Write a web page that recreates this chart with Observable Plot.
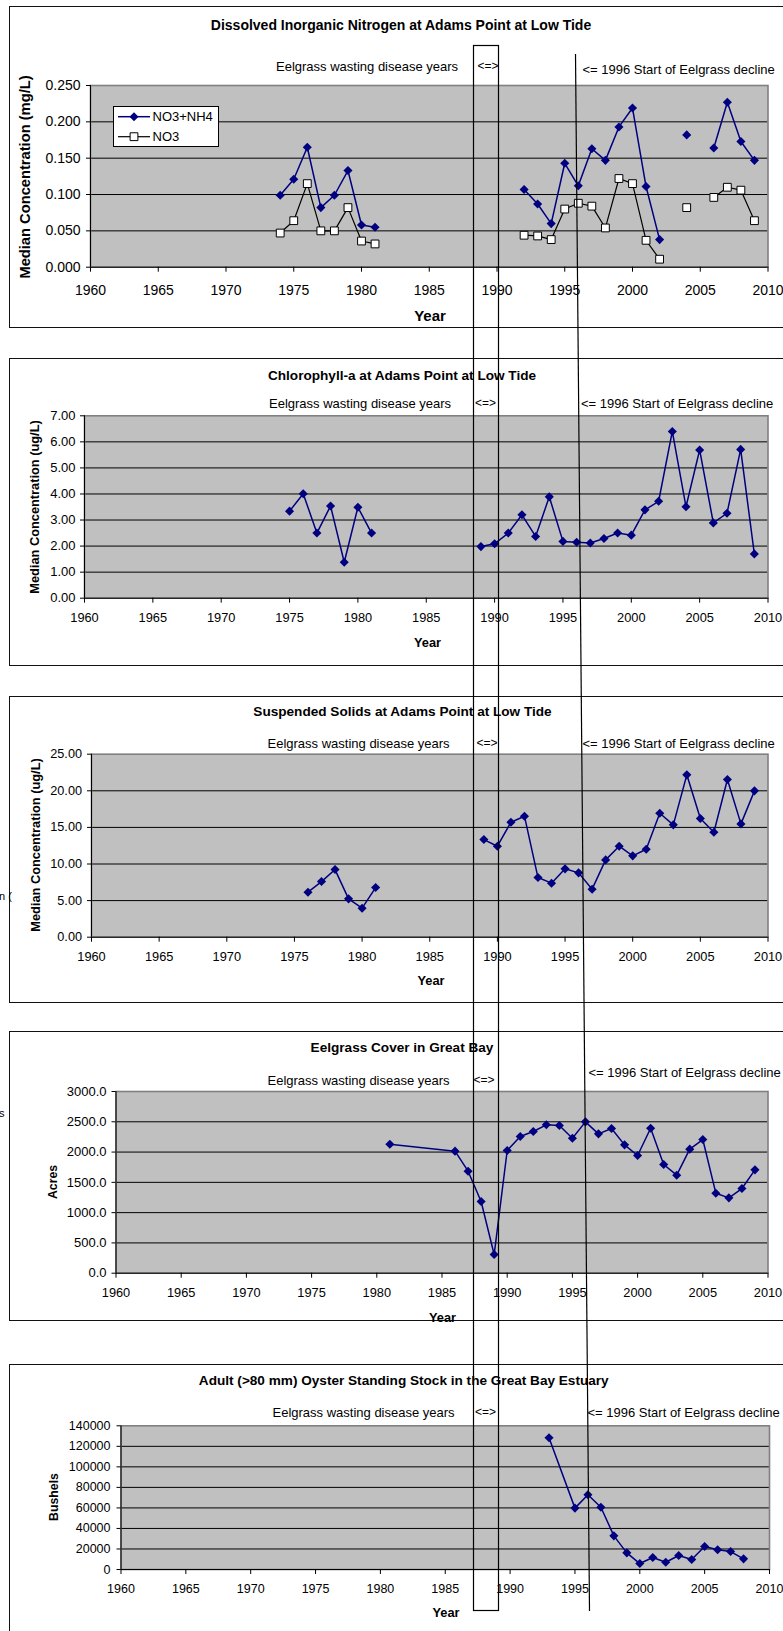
<!DOCTYPE html>
<html>
<head>
<meta charset="utf-8">
<script src="https://cdn.jsdelivr.net/npm/d3@7"></script>
<script src="https://cdn.jsdelivr.net/npm/@observablehq/plot@0.6"></script>
<style>
html, body { margin:0; padding:0; background:#fff; }
body { width:783px; height:1631px; overflow:hidden; }
#page { position:relative; width:783px; height:1631px; overflow:hidden; font-family:"Liberation Sans", Arial, sans-serif; color:#000; }
.frame { position:absolute; left:9px; width:800px; border:1.4px solid #111; box-sizing:border-box; }
.txt { position:absolute; white-space:nowrap; line-height:1; }
.plot { position:absolute; left:0; }
</style>
</head>
<body>
<div id="page"></div>
<script>
// ---------------- DATA ----------------
const yearTicks = [1960, 1965, 1970, 1975, 1980, 1985, 1990, 1995, 2000, 2005, 2010];

// Panel 1: Dissolved inorganic nitrogen (null = gap in line)
const dinYears = [1974,1975,1976,1977,1978,1979,1980,1981,1982,1992,1993,1994,1995,1996,1997,1998,1999,2000,2001,2002,2003,2004,2005,2006,2007,2008,2009];
const no3nh4   = [0.099,0.121,0.165,0.082,0.099,0.133,0.058,0.055,null,0.107,0.087,0.060,0.143,0.112,0.163,0.147,0.193,0.219,0.111,0.038,null,0.182,null,0.164,0.227,0.173,0.147];
const no3      = [0.047,0.064,0.115,0.050,0.050,0.082,0.036,0.032,null,0.044,0.043,0.038,0.080,0.088,0.084,0.054,0.122,0.115,0.037,0.011,null,0.082,null,0.096,0.110,0.106,0.064];
const dinTicks = [0, 0.05, 0.10, 0.15, 0.20, 0.25];

// Panel 2: Chlorophyll-a
const chlYears = [1975,1976,1977,1978,1979,1980,1981,1985,1989,1990,1991,1992,1993,1994,1995,1996,1997,1998,1999,2000,2001,2002,2003,2004,2005,2006,2007,2008,2009];
const chl      = [3.34,4.01,2.50,3.54,1.38,3.49,2.50,null,1.98,2.09,2.50,3.20,2.37,3.89,2.18,2.15,2.12,2.29,2.50,2.42,3.39,3.72,6.40,3.51,5.69,2.89,3.26,5.71,1.70];
const chlTicks = [0,1,2,3,4,5,6,7];

// Panel 3: Suspended solids
const tssYears = [1976,1977,1978,1979,1980,1981,1985,1989,1990,1991,1992,1993,1994,1995,1996,1997,1998,1999,2000,2001,2002,2003,2004,2005,2006,2007,2008,2009];
const tss      = [6.15,7.60,9.24,5.24,3.96,6.78,null,13.34,12.43,15.71,16.53,8.15,7.38,9.34,8.79,6.56,10.56,12.43,11.11,12.02,16.94,15.35,22.18,16.21,14.34,21.54,15.48,19.99];
const tssTicks = [0,5,10,15,20,25];

// Panel 4: Eelgrass cover (acres)
const eelYears = [1981,1986,1987,1988,1989,1990,1991,1992,1993,1994,1995,1996,1997,1998,1999,2000,2001,2002,2003,2004,2005,2006,2007,2008,2009];
const eel      = [2130,2015,1684,1183,308,2026,2257,2339,2450,2439,2229,2499,2301,2389,2119,1943,2394,1794,1618,2048,2207,1321,1244,1398,1706];
const eelTicks = [0,500,1000,1500,2000,2500,3000];

// Panel 5: Oyster standing stock (bushels)
const oysYears = [1993,1995,1996,1997,1998,1999,2000,2001,2002,2003,2004,2005,2006,2007,2008];
const oys      = [128300,59800,72800,60700,32800,16200,5800,11700,7100,13600,9700,22400,19200,17500,10400];
const oysTicks = [0,20000,40000,60000,80000,100000,120000,140000];

const titles = [
  "Dissolved Inorganic Nitrogen at Adams Point at Low Tide",
  "Chlorophyll-a at Adams Point at Low Tide",
  "Suspended Solids at Adams Point at Low Tide",
  "Eelgrass Cover in Great Bay",
  "Adult (>80 mm) Oyster Standing Stock in the Great Bay Estuary"
];
const yTitles = ["Median Concentration (mg/L)", "Median Concentration (ug/L)", "Median Concentration (ug/L)", "Acres", "Bushels"];
const xTitle = "Year";
const notes = ["Eelgrass wasting disease years", "<=>", "<= 1996 Start of Eelgrass decline"];
const legendNames = ["NO3+NH4", "NO3"];

// ---------------- LAYOUT ----------------
const W = 783, H = 1631;
const NAVY = "#000080";
const layout = [
  {fTop:6, fBot:328, svgBot:328, x0:90, x1:767.5, y0:85, y1:266.7, xFont:14, yFont:14, xPad:13, yPad:6,
   title:[401,25,14], yTitle:[25,177,14.7], year:[430,315,15], notes:[[276,66],[477.5,66],[582.5,69]]},
  {fTop:358, fBot:666, svgBot:666, x0:84, x1:767.5, y0:415.3, y1:597.7, xFont:12.8, yFont:13, xPad:9.5, yPad:5,
   title:[402,375.7,13.6], yTitle:[35,506.7,12.8], year:[427.5,643.3,12.8], notes:[[269,402.7],[475,402.7],[581,402.7]]},
  {fTop:696, fBot:1003, svgBot:1003, x0:91, x1:767.5, y0:753.7, y1:936.7, xFont:12.8, yFont:12.7, xPad:9.5, yPad:5.5,
   title:[402.5,712.3,13.6], yTitle:[36,845,12.8], year:[431,981,12.8], notes:[[267.5,742.7],[476.5,742.7],[582.5,742.7]]},
  {fTop:1031, fBot:1321, svgBot:1321, x0:115.5, x1:767.5, y0:1091, y1:1272.7, xFont:12.8, yFont:13, xPad:9.5, yPad:5.5,
   title:[402,1048.3,13.6], yTitle:[52.5,1181.7,12.3], year:[442.5,1318,12.8], notes:[[267.5,1080],[473.5,1080],[588.5,1071.7]]},
  {fTop:1364, fBot:1700, svgBot:1631, x0:120.5, x1:769, y0:1425.3, y1:1569, xFont:12.5, yFont:12.5, xPad:9.3, yPad:6.5,
   title:[403.75,1380.7,13.6], yTitle:[54,1497,12.3], year:[446,1613,12.8], notes:[[272.5,1411.7],[475,1411.7],[587.5,1411.7]]}
];

const page = document.getElementById("page");

function txt(s, x, y, size, opt = {}) {
  const d = document.createElement("div");
  d.className = "txt";
  d.textContent = s;
  d.style.left = x + "px";
  d.style.top = y + "px";
  d.style.fontSize = size + "px";
  if (opt.bold) d.style.fontWeight = "bold";
  const tx = opt.anchor === "start" ? "0" : opt.anchor === "end" ? "-100%" : "-50%";
  d.style.transform = `translate(${tx},-50%)` + (opt.rotate ? ` rotate(${opt.rotate}deg)` : "");
  page.appendChild(d);
  return d;
}

function rows(years, vals) { return years.map((year, i) => ({year, v: vals[i]})); }

function diamondSeries(years, vals) {
  const data = rows(years, vals);
  return [
    Plot.line(data, {x: "year", y: "v", stroke: NAVY, strokeWidth: 1.5}),
    Plot.dot(data, {x: "year", y: "v", symbol: d3.symbolDiamond2, r: 4.1, fill: NAVY, stroke: "none"})
  ];
}
function squareSeries(years, vals) {
  const data = rows(years, vals);
  return [
    Plot.line(data, {x: "year", y: "v", stroke: "#000", strokeWidth: 1.2}),
    Plot.dot(data, {x: "year", y: "v", symbol: "square", r: 4.4, fill: "#fff", stroke: "#000", strokeWidth: 1})
  ];
}

function panel(i, series, yTicks, yFmt) {
  const c = layout[i];
  // frame
  const f = document.createElement("div");
  f.className = "frame";
  f.style.top = c.fTop + "px";
  f.style.height = (c.fBot - c.fTop) + "px";
  page.appendChild(f);

  const h = c.svgBot - c.fTop;
  const chart = Plot.plot({
    width: W, height: h,
    marginLeft: c.x0, marginRight: W - c.x1,
    marginTop: c.y0 - c.fTop, marginBottom: c.svgBot - c.y1,
    x: {domain: [1960, 2010]},
    y: {domain: [yTicks[0], yTicks[yTicks.length - 1]]},
    style: {background: "transparent", color: "#000", fontFamily: "Liberation Sans, Arial, sans-serif", fontSize: c.xFont + "px", overflow: "visible"},
    marks: [
      Plot.frame({fill: "#c0c0c0", stroke: "none"}),
      Plot.gridY(yTicks.slice(1, -1), {stroke: "#000", strokeOpacity: 1, strokeWidth: 1}),
      Plot.frame({fill: "none", stroke: "#808080", strokeWidth: 1.6}),
      Plot.ruleX([1960], {stroke: "#000", strokeWidth: 1}),
      Plot.ruleY([yTicks[0]], {stroke: "#000", strokeWidth: 1}),
      Plot.axisX(yearTicks, {tickSize: 5, tickPadding: c.xPad, tickFormat: d => String(d), fontSize: c.xFont, label: null}),
      Plot.axisY(yTicks, {tickSize: 4, tickPadding: c.yPad, tickFormat: yFmt, fontSize: c.yFont, label: null}),
      ...series
    ]
  });
  chart.classList.add("plot");
  chart.style.position = "absolute";
  chart.style.left = "0px";
  chart.style.top = c.fTop + "px";
  page.appendChild(chart);

  txt(titles[i], c.title[0], c.title[1], c.title[2], {bold: true});
  txt(yTitles[i], c.yTitle[0], c.yTitle[1], c.yTitle[2], {bold: true, rotate: -90});
  txt(xTitle, c.year[0], c.year[1], c.year[2], {bold: true});
  txt(notes[0], c.notes[0][0], c.notes[0][1], 13, {anchor: "start"});
  txt(notes[1], c.notes[1][0], c.notes[1][1], 12, {anchor: "start"});
  txt(notes[2], c.notes[2][0], c.notes[2][1], 13, {anchor: "start"});
  return chart;
}

panel(0, [...squareSeries(dinYears, no3), ...diamondSeries(dinYears, no3nh4)], dinTicks, d3.format(".3f"));
panel(1, diamondSeries(chlYears, chl), chlTicks, d3.format(".2f"));
panel(2, diamondSeries(tssYears, tss), tssTicks, d3.format(".2f"));
panel(3, diamondSeries(eelYears, eel), eelTicks, d3.format(".1f"));
panel(4, diamondSeries(oysYears, oys), oysTicks, d3.format("d"));

// Legend (panel 1)
const lg = document.createElement("div");
Object.assign(lg.style, {position: "absolute", left: "113px", top: "106px", width: "106px", height: "41px",
  border: "1px solid #000", background: "#fff", boxSizing: "border-box"});
page.appendChild(lg);
const lsvg = d3.select(lg).append("svg").attr("width", 104).attr("height", 39).style("position", "absolute").style("left", 0).style("top", 0);
[[NAVY, d3.symbolDiamond2, 52, NAVY, "none", 9.7], ["#000", d3.symbolSquare, 61, "#fff", "#000", 29.7]].forEach(([col, sym, size, fill, stroke, y], k) => {
  lsvg.append("line").attr("x1", 4).attr("x2", 36).attr("y1", y).attr("y2", y).attr("stroke", col).attr("stroke-width", k ? 1.2 : 1.5);
  lsvg.append("path").attr("d", d3.symbol(sym, size)()).attr("transform", `translate(20,${y})`).attr("fill", fill).attr("stroke", stroke);
  lsvg.append("text").attr("x", 38.5).attr("y", y).attr("dy", "0.35em").attr("font-size", 13)
    .attr("font-family", "Liberation Sans, Arial, sans-serif").text(legendNames[k]);
});

// stray clipped text fragments at the left edge
txt("n (", -1, 896, 11, {anchor: "start"});
txt("s", -1, 1113, 11, {anchor: "start"});

// Overlay: disease-years box and 1996 line running across all panels
const ov = d3.select(page).append("svg").attr("width", W).attr("height", H)
  .style("position", "absolute").style("left", 0).style("top", 0).style("pointer-events", "none");
ov.append("rect").attr("x", 473.5).attr("y", 45.5).attr("width", 25).attr("height", 1565)
  .attr("fill", "none").attr("stroke", "#000").attr("stroke-width", 1.2);
ov.append("line").attr("x1", 575.5).attr("y1", 54).attr("x2", 589.5).attr("y2", 1611)
  .attr("stroke", "#000").attr("stroke-width", 1.2);
</script>
</body>
</html>
